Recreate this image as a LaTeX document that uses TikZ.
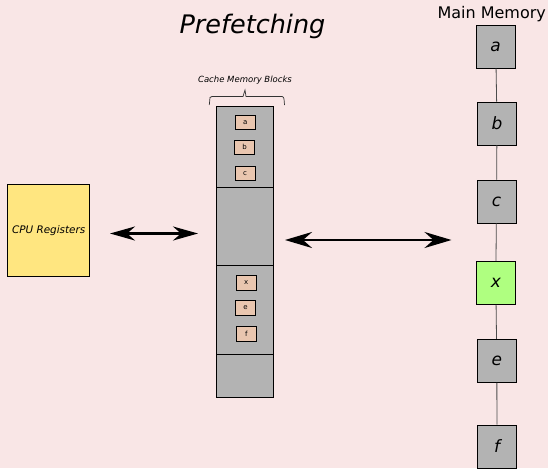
\documentclass[tikz,border=0pt]{standalone}
\usepackage{fontspec}
\setmainfont{DejaVu Sans}
\usetikzlibrary{arrows.meta,positioning}

\definecolor{bgpink}{RGB}{249,230,230}
\definecolor{memgray}{RGB}{179,179,179}
\definecolor{cpuyellow}{RGB}{255,230,128}
\definecolor{tagpeach}{RGB}{233,198,175}
\definecolor{hitgreen}{RGB}{175,255,128}

\begin{document}
\begin{tikzpicture}[
  x=1pt, y=-1pt,
  mem/.style={draw, line width=0.9pt, fill=memgray, minimum width=39pt, minimum height=43pt, inner sep=0pt, font=\fontsize{17}{17}\selectfont\itshape},
  seg/.style={draw, line width=1pt, fill=memgray, minimum width=57pt, inner sep=0pt, outer sep=0pt},
  tag/.style={draw, line width=0.8pt, fill=tagpeach, minimum width=20pt, minimum height=14.5pt, inner sep=0pt, font=\fontsize{7}{7}\selectfont},
  link/.style={draw=black!70, line width=0.8pt},
  xfer/.style={{Stealth[length=25pt,width=14pt,inset=8pt]}-{Stealth[length=25pt,width=14pt,inset=8pt]}, line width=2.6pt}
]
\fill[bgpink] (0,0) rectangle (548,468);
\useasboundingbox (0,0) rectangle (548,468);

\node[anchor=base, font=\fontsize{25.5}{25.5}\selectfont\itshape] (title) at (252.5,33.5) {Prefetching};

% CPU side
\node[draw, line width=0.9pt, fill=cpuyellow, minimum width=82pt, minimum height=92pt, inner sep=0pt,
      font=\fontsize{10.4}{10.4}\selectfont\itshape] (cpu) at (48.7,230.3) {CPU Registers};

% Cache column, four stacked blocks
\node[seg, minimum height=80.7pt, anchor=north] (blk1) at (245,107) {};
\node[seg, minimum height=78pt, below=0pt of blk1] (blk2) {};
\node[seg, minimum height=89pt, below=0pt of blk2] (blk3) {};
\node[seg, minimum height=42.6pt, below=0pt of blk3] (blk4) {};

\node[tag] (ca) at (245.3,122.3) {a};
\node[tag] (cb) at (244.7,147.3) {b};
\node[tag] (cc) at (245,173.3) {c};
\node[tag] (cx) at (246.3,282.7) {x};
\node[tag] (ce) at (245.5,307.7) {e};
\node[tag] (cf) at (246.3,333.8) {f};

\node[anchor=base, font=\fontsize{8.5}{8.5}\selectfont\itshape] (blklabel) at (245,83) {Cache Memory Blocks};
\draw[line width=0.7pt, black!80] (209.3,105) -- (210,97.5) to[out=0,in=180] (212,96.5) -- (243,96.5) -- (245,90) -- (246,96.5) -- (282,96.5) to[out=0,in=90] (284,99) -- (284.5,105);

% Main memory chain
\node[anchor=base, font=\fontsize{16}{16}\selectfont] (mmlabel) at (491.7,19) {Main Memory};
\node[mem] (ma) at (495.7,46.5) {a};
\node[mem] (mb) at (497,123.5) {b};
\node[mem] (mc) at (496.5,201.5) {c};
\node[mem, fill=hitgreen] (mx) at (495.8,283) {x};
\node[mem] (me) at (496.8,360.8) {e};
\node[mem] (mf) at (497,446.5) {f};
\draw[link] (ma) -- (mb);
\draw[link] (mb) -- (mc);
\draw[link] (mc) -- (mx);
\draw[link] (mx) -- (me);
\draw[link] (me) -- (mf);

% transfers
\coordinate (cpuout) at (110,233.5);
\coordinate (cachein) at (198,233.5);
\coordinate (cacheout) at (285,240);
\coordinate (memin) at (451.5,240);
\draw[xfer] (cpuout) -- (cachein);
\draw[xfer, {Stealth[length=27pt,width=16pt,inset=9pt]}-{Stealth[length=27pt,width=16pt,inset=9pt]}] (cacheout) -- (memin);

\end{tikzpicture}
\end{document}
